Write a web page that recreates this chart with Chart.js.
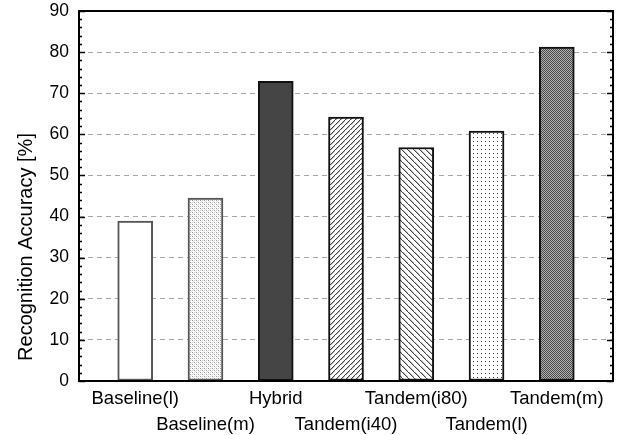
<!DOCTYPE html>
<html>
<head>
<meta charset="utf-8">
<script src="https://cdn.jsdelivr.net/npm/chart.js@4/dist/chart.umd.min.js"></script>
<style>
html,body{margin:0;padding:0;background:#fff;}
#wrap{width:619px;height:435px;}
</style>
</head>
<body>
<div id="wrap"><canvas id="c" width="619" height="435"></canvas></div>
<script>
const categories = ['Baseline(l)','Baseline(m)','Hybrid','Tandem(i40)','Tandem(i80)','Tandem(l)','Tandem(m)'];
const accuracy = [38.9, 44.5, 72.9, 64.2, 56.8, 60.8, 81.2];
const yTicks = [0,10,20,30,40,50,60,70,80,90];
const yAxisTitle = 'Recognition Accuracy [%]';

function tile(w, h, draw){
  const cv = document.createElement('canvas');
  cv.width = w; cv.height = h;
  const g = cv.getContext('2d');
  g.fillStyle = '#fff'; g.fillRect(0,0,w,h);
  draw(g);
  return cv;
}
const ctx = document.getElementById('c').getContext('2d');
function px(g,x,y,c){ g.fillStyle=c; g.fillRect(x,y,1,1); }

const patWhite = '#ffffff';
const patBaseM = ctx.createPattern(tile(4,4,g=>{
  px(g,0,0,'#999'); px(g,2,2,'#999'); px(g,2,0,'#ccc'); px(g,0,2,'#ccc');
  px(g,1,1,'#e4e4e4'); px(g,3,3,'#e4e4e4');
}),'repeat');
const patHybrid = '#454545';
const patI40 = ctx.createPattern(tile(5,5,g=>{
  for(let i=0;i<5;i++){ px(g,i,4-i,'#444'); }
  for(let i=0;i<4;i++){ px(g,i+1,4-i,'#bbb'); }
}),'repeat');
const patI80 = ctx.createPattern(tile(6,6,g=>{
  for(let i=0;i<6;i++){ px(g,i,i,'#444'); }
  for(let i=0;i<5;i++){ px(g,i+1,i,'#bbb'); }
}),'repeat');
const patTL = ctx.createPattern(tile(4,4,g=>{
  px(g,1,1,'#333');
}),'repeat');
const patTM = ctx.createPattern(tile(2,2,g=>{
  px(g,0,0,'#4a4a4a'); px(g,1,1,'#4a4a4a'); px(g,1,0,'#b0b0b0'); px(g,0,1,'#b0b0b0');
}),'repeat');

const fills = [patWhite, patBaseM, patHybrid, patI40, patI80, patTL, patTM];
const borders = ['#555','#555','#111','#111','#111','#111','#111'];

const frame = {
  id:'frame',
  afterDatasetsDraw(chart){
    const {ctx, chartArea:a, scales:{y}} = chart;
    ctx.save();
    ctx.strokeStyle = '#000';
    ctx.lineWidth = 1.5;
    for(let v = y.min; v <= y.max; v += 2){
      const p = Math.round(y.getPixelForValue(v)) + 0.5;
      const len = (v % 10 === 0) ? 6 : 3;
      ctx.beginPath();
      ctx.moveTo(a.left, p); ctx.lineTo(a.left + len, p);
      ctx.moveTo(a.right, p); ctx.lineTo(a.right - len, p);
      ctx.stroke();
    }
    ctx.lineWidth = 2;
    ctx.strokeRect(a.left, a.top, a.right - a.left, a.bottom - a.top);
    // y-axis title
    ctx.translate(26, 247);
    ctx.rotate(-Math.PI/2);
    ctx.fillStyle = '#000';
    ctx.font = '20px "Liberation Sans"';
    ctx.textAlign = 'center';
    ctx.textBaseline = 'middle';
    ctx.fillText(yAxisTitle, 0, 0);
    ctx.restore();
  }
};

new Chart(ctx, {
  type:'bar',
  data:{
    datasets:[{
      data: categories.map((c,i)=>({x:i+1, y:accuracy[i]})),
      backgroundColor: fills,
      borderColor: borders,
      borderWidth: 2,
      borderSkipped: false,
      barThickness: 35
    }]
  },
  options:{
    responsive:false,
    animation:false,
    events:[],
    layout:{padding:{left:0,right:6,top:11,bottom:0}},
    plugins:{legend:{display:false}, tooltip:{enabled:false}},
    scales:{
      x:{
        type:'linear',
        offset:false,
        min:0.2, max:7.8,
        afterBuildTicks(s){ s.ticks = categories.map((c,i)=>({value:i+1})); },
        afterFit(s){ s.height = 54; s.paddingLeft = 0; s.paddingRight = 0; },
        grid:{display:false, drawTicks:false, offset:false},
        border:{display:false},
        ticks:{
          autoSkip:false, maxRotation:0, padding:4,
          color:'#000',
          font:{family:'Liberation Sans', size:18.5, lineHeight:1.45},
          callback(v){ const i = v-1; const c = categories[i]; if(c===undefined) return ''; return i%2===0 ? [c,''] : ['',c]; }
        }
      },
      y:{
        min:0, max:90,
        afterBuildTicks(s){ s.ticks = yTicks.map(v=>({value:v})); },
        afterFit(s){ s.width = 79; s.paddingTop = 0; s.paddingBottom = 0; },
        grid:{
          drawTicks:false,
          color(c){ return (c.tick && (c.tick.value===0 || c.tick.value===90)) ? 'rgba(0,0,0,0)' : '#a8a8a8'; },
          lineWidth:1
        },
        border:{display:false, dash:[5,4]},
        ticks:{
          padding:10, color:'#000',
          font:{family:'Liberation Sans', size:17.5}
        },
        title:{display:false}
      }
    }
  },
  plugins:[frame]
});
</script>
</body>
</html>
